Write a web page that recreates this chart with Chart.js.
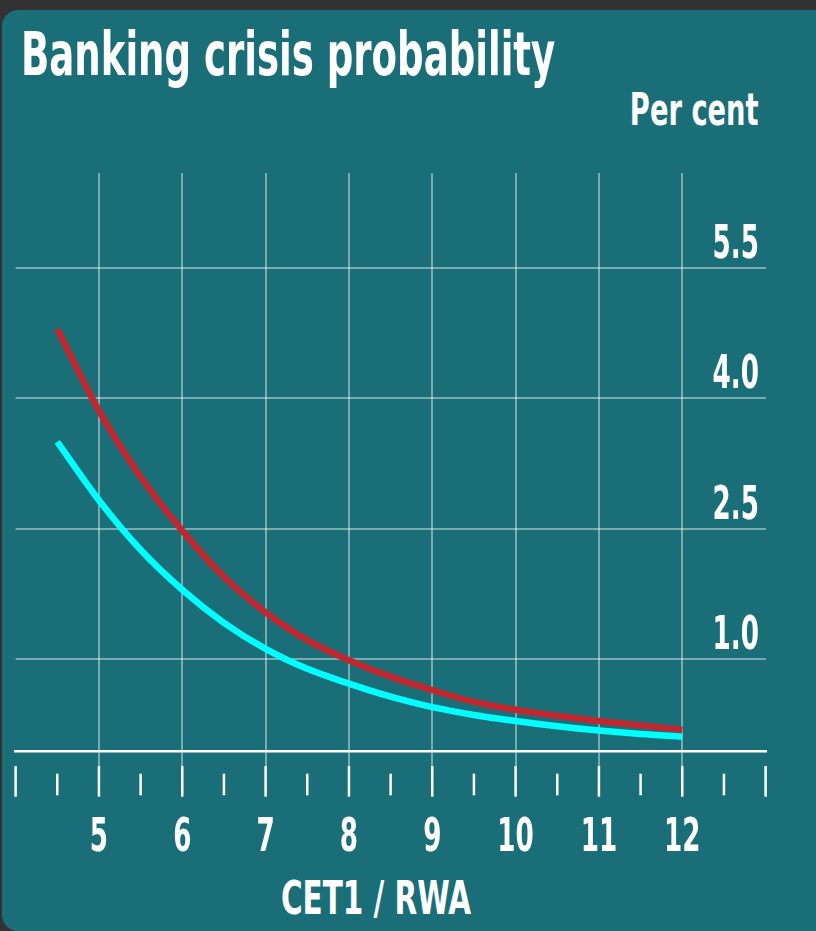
<!DOCTYPE html>
<html>
<head>
<meta charset="utf-8">
<script src="https://cdn.jsdelivr.net/npm/chart.js@4.4.1/dist/chart.umd.min.js"></script>
<style>
  html, body { margin: 0; padding: 0; background: #323232; }
  body { width: 816px; height: 931px; position: relative; overflow: hidden; }
  .card {
    position: absolute; left: 2px; top: 10px; width: 830px; height: 921px;
    background: #1a6e78; border-radius: 16px;
  }
  .txt {
    position: absolute; color: #fff; font-weight: bold; line-height: 1; white-space: nowrap;
    font-family: "DejaVu Sans Condensed", "DejaVu Sans", sans-serif;
  }
  #title { left: 21px; top: 24px; font-size: 60px; transform-origin: left top; }
  #unit { right: 57px; top: 88px; font-size: 44px; transform-origin: right top; }
  #xtitle { left: 281px; top: 874px; font-size: 47px; transform-origin: left top; }
  canvas { position: absolute; left: 0; top: 0; }
</style>
</head>
<body>
<div class="card"></div>
<div class="txt" id="title">Banking crisis probability</div>
<div class="txt" id="unit">Per cent</div>
<div class="txt" id="xtitle">CET1 / RWA</div>
<canvas id="chart" width="816" height="931"></canvas>
<script>
// values
const xValues = [4.5, 5, 5.5, 6, 6.5, 7, 7.5, 8, 8.5, 9, 9.5, 10, 10.5, 11, 11.5, 12];
const upperCurve = [4.80, 3.86, 3.10, 2.48, 1.95, 1.54, 1.22, 0.99, 0.80, 0.645, 0.51, 0.42, 0.35, 0.29, 0.24, 0.19];
const lowerCurve = [3.50, 2.83, 2.26, 1.80, 1.42, 1.12, 0.89, 0.72, 0.57, 0.45, 0.36, 0.29, 0.23, 0.18, 0.14, 0.11];
const xTickLabels = [5, 6, 7, 8, 9, 10, 11, 12];
const yTickValues = [1.0, 2.5, 4.0, 5.5];

const FONT = '"DejaVu Sans Condensed", "DejaVu Sans", sans-serif';
const GRID = 'rgba(255,255,255,0.42)';
const NARROW = 0.62; // the reference lettering is a very condensed face

// squeeze the html labels to the widths of the reference lettering
function fitWidth(id, w) {
  const el = document.getElementById(id);
  el.style.transform = 'scaleX(' + (w / el.offsetWidth) + ')';
}
fitWidth('title', 534);
fitWidth('unit', 129);
fitWidth('xtitle', 190);

const toPoints = (ys) => ys.map((y, i) => ({ x: xValues[i], y: y }));

function narrowText(ctx, text, x, y, align) {
  ctx.save();
  ctx.translate(x, y);
  ctx.scale(NARROW, 1);
  ctx.textAlign = align;
  ctx.fillText(text, 0, 0);
  ctx.restore();
}

// half-step tick marks below the axis line, plus the condensed tick labels
const axisDecor = {
  id: 'axisDecor',
  afterDraw(chart) {
    const { ctx, chartArea, scales } = chart;
    const sx = scales.x, sy = scales.y;
    ctx.save();
    ctx.strokeStyle = '#fff';
    ctx.lineWidth = 2.5;
    for (let v = sx.min; v <= sx.max + 1e-9; v += 0.5) {
      const px = sx.getPixelForValue(v);
      const major = Math.abs(v - Math.round(v)) < 1e-9;
      ctx.beginPath();
      ctx.moveTo(px, chartArea.bottom + (major ? 14.3 : 22));
      ctx.lineTo(px, chartArea.bottom + (major ? 45 : 43.6));
      ctx.stroke();
    }
    ctx.fillStyle = '#fff';
    ctx.font = 'bold 47px ' + FONT;
    ctx.textBaseline = 'alphabetic';
    xTickLabels.forEach((v) => {
      narrowText(ctx, String(v), sx.getPixelForValue(v), chartArea.bottom + 99.3, 'center');
    });
    yTickValues.forEach((v) => {
      narrowText(ctx, v.toFixed(1), chartArea.right - 6.6, sy.getPixelForValue(v) - 10, 'right');
    });
    ctx.restore();
  }
};

new Chart(document.getElementById('chart'), {
  type: 'line',
  data: {
    datasets: [
      {
        label: 'Lower',
        data: toPoints(lowerCurve),
        borderColor: '#00ffff',
        borderWidth: 6.5,
        pointRadius: 0,
        cubicInterpolationMode: 'monotone',
        borderCapStyle: 'butt'
      },
      {
        label: 'Upper',
        data: toPoints(upperCurve),
        borderColor: '#c1272f',
        borderWidth: 6.5,
        pointRadius: 0,
        cubicInterpolationMode: 'monotone',
        borderCapStyle: 'butt'
      }
    ]
  },
  options: {
    responsive: false,
    animation: false,
    layout: { padding: { left: 15.6, right: 50.4, top: 173, bottom: 68.6 } },
    plugins: { legend: { display: false }, tooltip: { enabled: false } },
    scales: {
      x: {
        type: 'linear',
        min: 4,
        max: 13,
        afterFit: (s) => { s.height = 110.7; s.paddingLeft = 0; s.paddingRight = 0; },
        border: { display: true, color: '#fff', width: 2.5 },
        grid: {
          color: (c) => xTickLabels.includes(c.tick.value) ? GRID : 'rgba(0,0,0,0)',
          tickColor: (c) => xTickLabels.includes(c.tick.value) ? GRID : 'rgba(0,0,0,0)',
          lineWidth: 2,
          drawTicks: true,
          tickLength: 14.3
        },
        ticks: { display: false, stepSize: 1, autoSkip: false, maxRotation: 0 }
      },
      y: {
        position: 'right',
        min: -0.063,
        max: 6.594,
        afterBuildTicks: (s) => { s.ticks = yTickValues.map((v) => ({ value: v })); },
        afterFit: (s) => { s.width = 0; s.paddingTop = 0; s.paddingBottom = 0; },
        border: { display: false },
        grid: { color: GRID, lineWidth: 2, drawTicks: false },
        ticks: { display: false }
      }
    }
  },
  plugins: [axisDecor]
});
</script>
</body>
</html>
